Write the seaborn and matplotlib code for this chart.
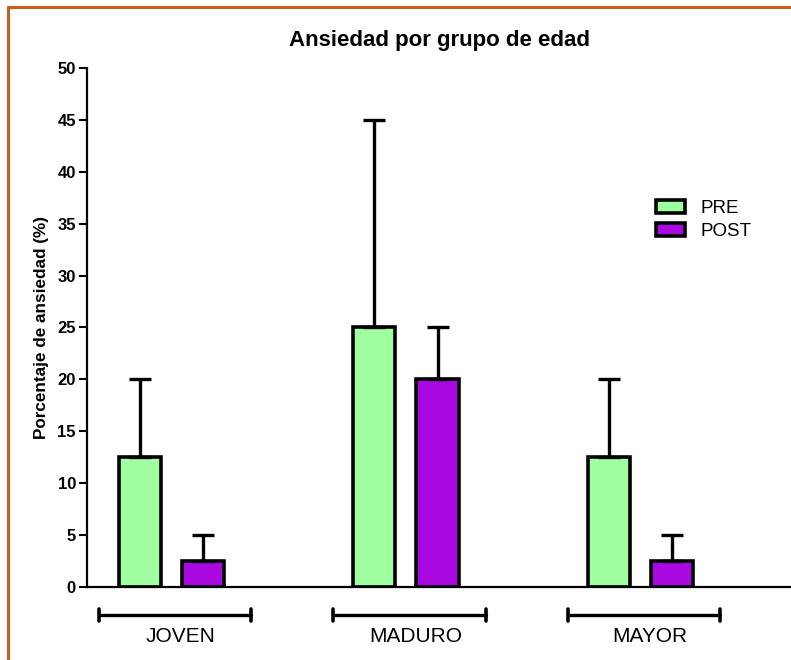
import matplotlib.pyplot as plt
import numpy as np
import pandas as pd
import seaborn as sns
from matplotlib.lines import Line2D
from matplotlib.patches import Patch

sns.set_style("ticks")
plt.rcParams["font.family"] = ["Liberation Sans", "DejaVu Sans"]
plt.rcParams.update({"text.color": "black", "axes.labelcolor": "black",
                     "xtick.color": "black", "ytick.color": "black",
                     "axes.edgecolor": "black"})

groups = ["JOVEN", "MADURO", "MAYOR"]
phases = ["PRE", "POST"]
pre_mean = [12.5, 25.0, 12.5]
post_mean = [2.5, 20.0, 2.5]
pre_err = [7.5, 20.0, 7.5]
post_err = [2.5, 5.0, 2.5]
yticks = list(range(0, 55, 5))

colors = {"PRE": "#a0ffa0", "POST": "#aa08e0"}

df = pd.DataFrame({
    "grupo": groups * 2,
    "fase": ["PRE"] * 3 + ["POST"] * 3,
    "valor": pre_mean + post_mean,
    "err": pre_err + post_err,
})

fig = plt.figure(figsize=(7.91, 6.60), dpi=100)
ax = fig.add_axes([0.110, 0.1106, 0.890, 0.7864])

sns.barplot(data=df, x="grupo", y="valor", hue="fase", order=groups,
            hue_order=phases, palette=colors, saturation=1, width=0.54, gap=0.333,
            errorbar=None, edgecolor="black", linewidth=2.6, legend=False, ax=ax)

# one-sided error bars on top of each bar
for patch_group, phase in zip(ax.containers, phases):
    sub = df[df["fase"] == phase].set_index("grupo").loc[groups]
    xs = [p.get_x() + p.get_width() / 2 for p in patch_group]
    ax.errorbar(xs, sub["valor"], yerr=[np.zeros(len(xs)), sub["err"]],
                fmt="none", ecolor="black", elinewidth=2.4, capsize=8,
                capthick=2.4, zorder=1)

ax.set_xlim(-0.361, 2.643)
ax.set_ylim(0, 50)
ax.set_yticks(yticks)
ax.set_yticklabels([str(t) for t in yticks], fontweight="bold", fontsize=12)
ax.tick_params(axis="y", length=6, width=1.5, pad=2)
ax.set_xticks([])
ax.set_xlabel("")
ax.set_ylabel("Porcentaje de ansiedad (%)", fontweight="bold", fontsize=12.3, labelpad=6)
ax.set_title("Ansiedad por grupo de edad", fontweight="bold", fontsize=16, pad=16)
sns.despine(ax=ax)
ax.spines["left"].set_linewidth(1.6)
ax.spines["bottom"].set_linewidth(1.6)

# group brackets under the axis
trans = ax.get_xaxis_transform()
for i, name in enumerate(groups):
    x0, x1 = i - 0.31, i + 0.34
    ax.plot([x0, x1], [-0.054, -0.054], color="black", lw=2.4, transform=trans, clip_on=False)
    for xe in (x0, x1):
        ax.plot([xe, xe], [-0.066, -0.042], color="black", lw=2.6, transform=trans, clip_on=False)
    ax.text(i + 0.04, -0.096, name, transform=trans, ha="center", va="center", fontsize=15)

handles = [Patch(facecolor=colors[p], edgecolor="black", linewidth=2.6, label=p) for p in phases]
fig.legend(handles=handles, loc="upper left", bbox_to_anchor=(0.808, 0.722), frameon=False,
           fontsize=13.5, handlelength=1.55, handleheight=0.7, labelspacing=0.3, handletextpad=0.8)

# orange frame on top and left
fig.add_artist(Line2D([0.0105, 1.0], [0.990, 0.990], color="#c8601a", lw=2.2, transform=fig.transFigure))
fig.add_artist(Line2D([0.0105, 0.0105], [0.0, 0.990], color="#c8601a", lw=2.2, transform=fig.transFigure))

fig.savefig("out.png", dpi=100)
plt.close(fig)
